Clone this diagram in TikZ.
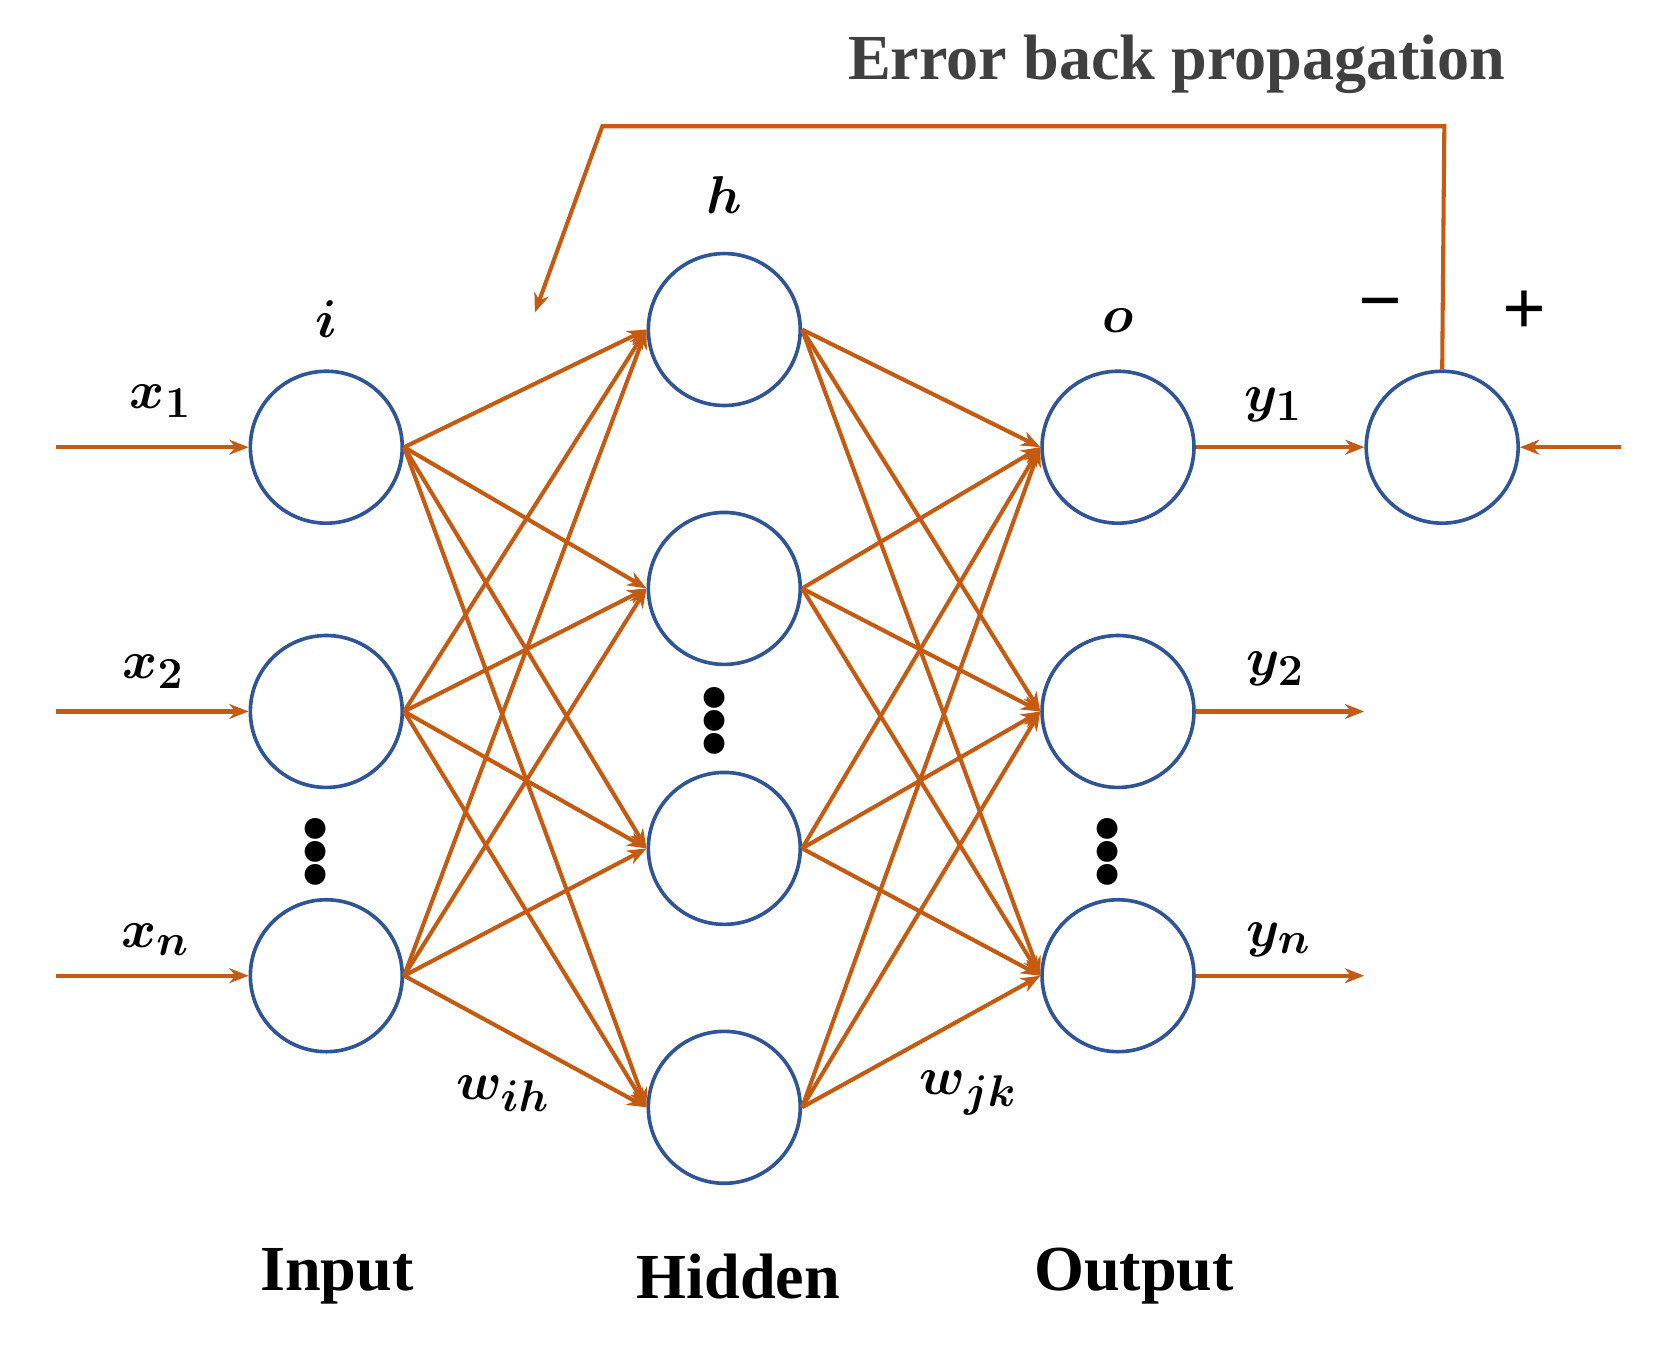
\documentclass[tikz,border=0pt]{standalone}
\usepackage{fontspec}
\setmainfont{Liberation Serif}
\usetikzlibrary{arrows.meta}
\definecolor{org}{HTML}{C55A11}
\definecolor{blu}{HTML}{2F5597}
\begin{document}
\begin{tikzpicture}[x=0.5pt,y=-0.5pt,
  neu/.style={circle,draw=blu,line width=1.7pt,minimum size=71pt,inner sep=0pt},
  con/.style={draw=org,line width=1.9pt,-{Stealth[length=9pt,width=7pt]}},
  lab/.style={font=\fontsize{28}{32}\selectfont\boldmath},
  dts/.style={font=\fontsize{60}{60}\selectfont\bfseries,inner sep=0pt},
  sgn/.style={font=\fontsize{36}{40}\selectfont\bfseries},
  ttl/.style={font=\fontsize{30}{36}\selectfont\bfseries}]
\useasboundingbox (0,0) rectangle (1560,1258);
\foreach \n/\y in {1/418,2/665,3/912} \node[neu] (i\n) at (305,\y) {};
\foreach \n/\y in {1/308,2/550,3/793,4/1035} \node[neu] (h\n) at (677,\y) {};
\foreach \n/\y in {1/418,2/665,3/912} \node[neu] (o\n) at (1045,\y) {};
\node[neu] (e) at (1348,418) {};
\foreach \a in {1,2,3} \foreach \b in {1,2,3,4} {
  \draw[con] (i\a.east) -- (h\b.west);
  \draw[con] (h\b.east) -- (o\a.west);}
\foreach \n/\y in {1/418,2/665,3/912} {
  \coordinate (s\n) at (52,\y); \draw[con] (s\n) -- (i\n.west);}
\coordinate (t2) at (1275,665); \coordinate (t3) at (1275,912);
\draw[con] (o1.east) -- (e.west);
\draw[con] (o2.east) -- (t2);
\draw[con] (o3.east) -- (t3);
\coordinate (r) at (1515,418); \draw[con] (r) -- (e.east);
\coordinate (c1) at (1350,118); \coordinate (c2) at (563,118); \coordinate (c3) at (500,292);
\draw[con] (e.north) -- (c1) -- (c2) -- (c3);
\node[lab] (lx1) at (150,375) {$x_1$};
\node[lab] (lx2) at (143,628) {$x_2$};
\node[lab] (lx3) at (145,878) {$x_n$};
\node[lab] (ly1) at (1190,378) {$y_1$};
\node[lab] (ly2) at (1192,625) {$y_2$};
\node[lab] (ly3) at (1195,878) {$y_n$};
\node[lab] (li) at (305,298) {$i$};
\node[lab] (lh) at (677,182) {$h$};
\node[lab] (lo) at (1045,300) {$o$};
\node[sgn] (lm) at (1290,292) {\textminus};
\node[sgn] (lp) at (1425,292) {+};
\node[lab] (wih) at (470,1022) {$w_{ih}$};
\node[lab] (wjk) at (905,1022) {$w_{jk}$};
\node[dts] (d1) at (295,790) {$\vdots$};
\node[dts] (d2) at (668,668) {$\vdots$};
\node[dts] (d3) at (1035,790) {$\vdots$};
\node[ttl] (ti) at (315,1193) {Input};
\node[ttl] (th) at (690,1193) {Hidden};
\node[ttl] (to) at (1060,1193) {Output};
\node[ttl,text=black!75] (te) at (1100,60) {Error back propagation};
\end{tikzpicture}
\end{document}
